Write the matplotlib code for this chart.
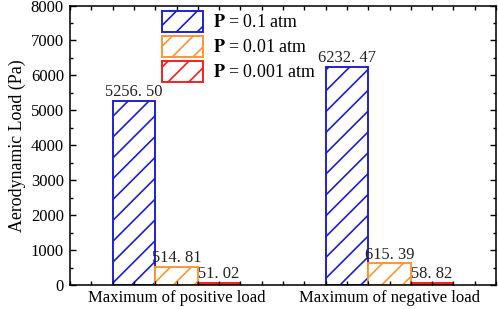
import numpy as np
import matplotlib
matplotlib.use('Agg')
import matplotlib.pyplot as plt
from matplotlib.ticker import MultipleLocator, FixedLocator

plt.rcParams['font.family'] = 'Liberation Serif'
plt.rcParams['mathtext.fontset'] = 'stix'
plt.rcParams['hatch.linewidth'] = 0.95

categories = ['Maximum of positive load', 'Maximum of negative load']
series_labels = [r'$\mathbf{P}$ = 0.1 atm', r'$\mathbf{P}$ = 0.01 atm', r'$\mathbf{P}$ = 0.001 atm']
load_p01 = [5256.50, 6232.47]
load_p001 = [514.81, 615.39]
load_p0001 = [51.02, 58.82]
colors = ['#1c1cd6', '#ff9430', '#f51c1c']

DPI = 125
fig = plt.figure(figsize=(498 / DPI, 309 / DPI), dpi=DPI)
ax = fig.add_axes([70 / 498, 1 - 285 / 309, 426 / 498, 279.5 / 309])

x = np.arange(1, len(categories) + 1)
width = 0.2
series = [load_p01, load_p001, load_p0001]

for i, (vals, lab, c) in enumerate(zip(series, series_labels, colors)):
    pos = x + (i - 1) * width
    ax.bar(pos, vals, width, facecolor='white', edgecolor=c, hatch='//',
           linewidth=1.1, label=lab)
    for px, v in zip(pos, vals):
        ax.annotate(f'{v:.2f}'.replace('.', '. '), (px, v), xytext=(0, 0.5),
                    textcoords='offset points', ha='center', va='bottom',
                    fontsize=9.5, color='#222222')

ax.set_xlim(0.5, 2.5)
ax.set_ylim(0, 8000)
ax.xaxis.set_major_locator(FixedLocator(x))
ax.set_xticklabels(categories)
ax.xaxis.set_minor_locator(MultipleLocator(0.1))
ax.yaxis.set_major_locator(MultipleLocator(1000))
ax.yaxis.set_minor_locator(MultipleLocator(500))

ax.tick_params(which='both', direction='in', top=True, right=True,
               labelsize=9.6, width=0.8, colors='black')
ax.tick_params(axis='y', which='major', length=3.5, pad=3.5)
ax.tick_params(axis='y', which='minor', length=1.8)
ax.tick_params(axis='x', which='major', length=2.2, pad=3)
ax.tick_params(axis='x', which='minor', length=2.2)
for s in ax.spines.values():
    s.set_linewidth(0.9)

ax.set_ylabel('Aerodynamic Load (Pa)', fontsize=10.3, labelpad=3)

ax.legend(loc='upper left', bbox_to_anchor=(162 / 498, 1 - 11 / 309),
          bbox_transform=fig.transFigure, frameon=False, fontsize=10.3,
          borderpad=0, borderaxespad=0, handlelength=2.3, handleheight=1.4,
          labelspacing=0.24, handletextpad=0.55)

fig.savefig('out.png', dpi=DPI)
